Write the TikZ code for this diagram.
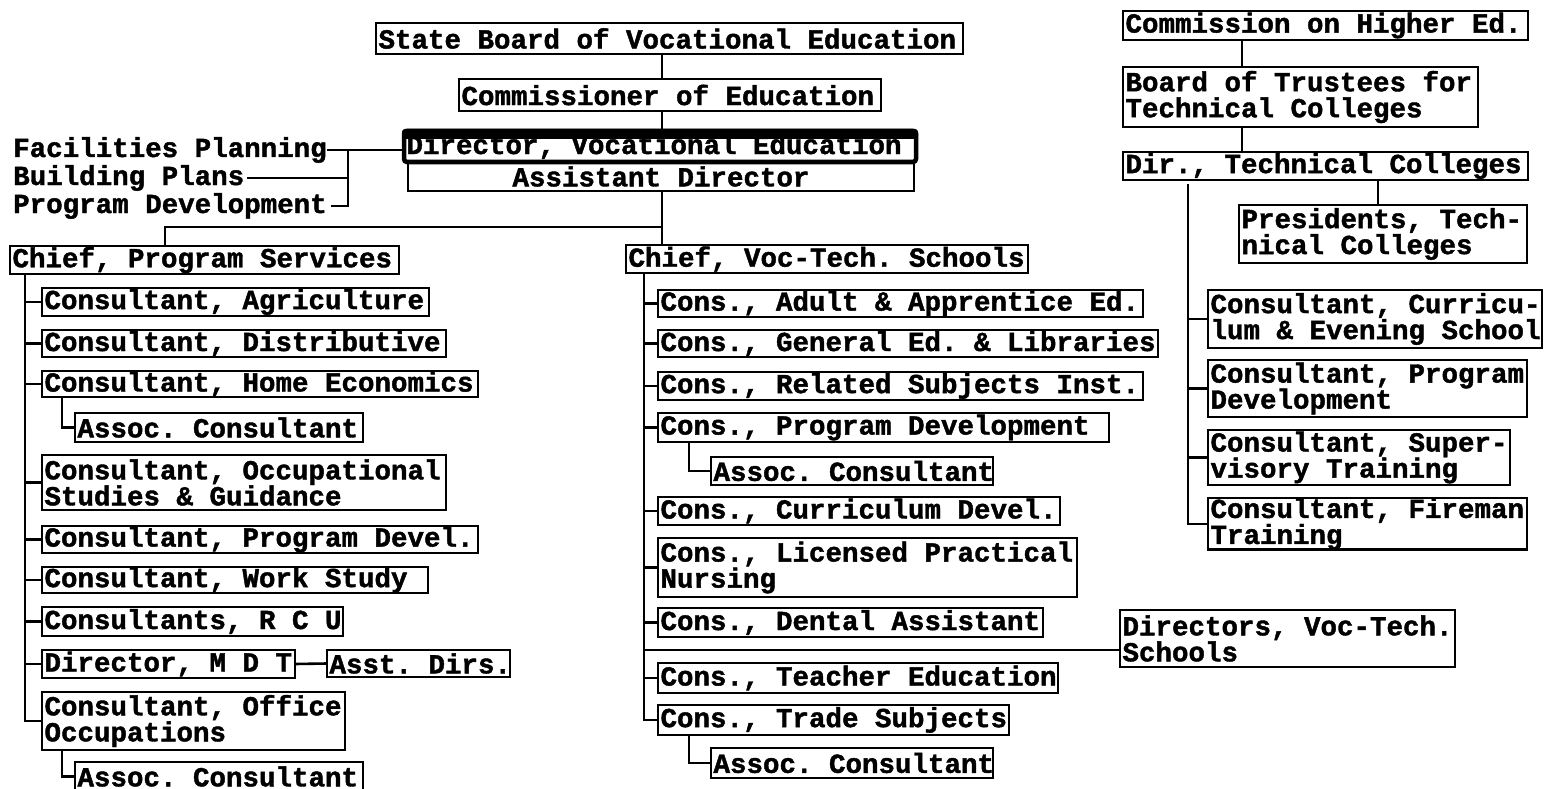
\documentclass[tikz,border=0pt]{standalone}
\usepackage{fontspec}
\newfontfamily\typewr{Liberation Mono}[BoldFeatures={FakeBold=1.5}]
\usetikzlibrary{calc}

% typewriter face with fixed-width word spaces
\newcommand\chartface{%
  \typewr\bfseries\fontsize{27.5}{26}\selectfont
  \fontdimen2\font=16.5pt \fontdimen3\font=0pt \fontdimen4\font=0pt
}

% org-chart box: [options]{name}{x1}{y1}{x2}{y2}{text}, pixel-style coordinates
\newcommand\orgbox[7][]{%
  \pgfmathsetmacro\obw{#5-#3}%
  \pgfmathsetmacro\obh{#6-#4}%
  \pgfmathsetmacro\otw{#5-#3-5}%
  \node[box, minimum width=\obw pt, minimum height=\obh pt, text width=\otw pt, #1] (#2) at (#3,#4) {#7};%
}

\tikzset{
  chartfont/.style={font=\chartface},
  box/.style={chartfont, draw, line width=2.6pt, anchor=north west,
    inner xsep=2.5pt, inner ysep=0pt, outer sep=0pt, align=flush left,
    execute at begin node={\spaceskip=16.5pt\xspaceskip=16.5pt\relax}},
  label/.style={chartfont, inner sep=0pt, anchor=base west},
  conn/.style={line width=2.6pt},
}

\begin{document}
\begin{tikzpicture}[x=1pt, y=-1pt]
\fill[white] (0,0) rectangle (1558,789);
\useasboundingbox (0,0) rectangle (1558,789);

% ---- central line of authority ----
\orgbox{sb}{376}{23}{963}{54}{\mbox{State Board of Vocational Education}}
\orgbox{ce}{459}{79}{881}{111}{\mbox{Commissioner of Education}}
\orgbox[line width=4.5pt, rounded corners=3pt]{dv}{404}{131}{916}{162}{\mbox{Director, Vocational Education}}
\fill[rounded corners=3pt] ($(dv.north west)+(-2pt,2pt)$) rectangle ($(dv.north east)+(2pt,-8pt)$);
\orgbox[align=flush center]{ad}{408}{162}{914}{191}{\mbox{Assistant Director}}

% staff functions beside the director
\node[label] (fp) at (13,157) {Facilities Planning};
\node[label] (bp) at (13,185) {Building Plans};
\node[label] (pd) at (13,213) {Program Development};
\coordinate (br) at (348,0);
\draw[conn] (fp.east) -- (fp.east -| dv.west);
\draw[conn] ($(bp.east)+(3pt,0)$) -- (bp.east -| br);
\draw[conn] ($(pd.east)+(4pt,0)$) -- (pd.east -| br) -- (br |- fp.east);

\coordinate (hub) at (662,227);
\coordinate (jl) at (165,227);
\draw[conn] (sb.south -| hub) -- (ce.north -| hub);
\draw[conn] (ce.south -| hub) -- (dv.north -| hub);
\draw[conn] (ad.south -| hub) -- (hub) -- (hub |- 0,245);
\draw[conn] (hub) -- (jl) -- (jl |- 0,246);

% ---- program services ----
\orgbox{cps}{10}{246}{399}{274}{\mbox{Chief, Program Services}}
\orgbox{a1}{42}{288}{429}{316}{\mbox{Consultant, Agriculture}}
\orgbox{a2}{42}{330}{446}{357}{\mbox{Consultant, Distributive}}
\orgbox{a3}{42}{371}{478}{397}{\mbox{Consultant, Home Economics}}
\orgbox{a3s}{75}{413}{363}{442}{\mbox{Assoc. Consultant}}
\orgbox{a4}{42}{455}{446}{510}{\mbox{Consultant, Occupational}\\\mbox{Studies \& Guidance}}
\orgbox{a5}{42}{526}{478}{553}{\mbox{Consultant, Program Devel.}}
\orgbox{a6}{42}{567}{428}{593}{\mbox{Consultant, Work Study}}
\orgbox{a7}{42}{607}{343}{636}{\mbox{Consultants, R C U}}
\orgbox{a8}{42}{650}{295}{678}{\mbox{Director, M D T}}
\orgbox{a8b}{327}{650}{510}{677}{\mbox{Asst. Dirs.}}
\orgbox{a9}{42}{692}{345}{750}{\mbox{Consultant, Office}\\\mbox{Occupations}}
\orgbox{a9s}{75}{762}{363}{791}{\mbox{Assoc. Consultant}}

\coordinate (lt) at (25,0);
\coordinate (ls) at (62,0);
\draw[conn] (cps.south -| lt) |- (a9.west);
\foreach \n in {a1,a2,a3,a4,a5,a6,a7,a8}
  \draw[conn] (\n.west) -- (\n.west -| lt);
\draw[conn] (a3.south -| ls) |- (a3s.west);
\draw[conn] (a9.south -| ls) |- (a9s.west);
\draw[conn] (a8.east) -- (a8b.west);

% ---- vocational-technical schools ----
\orgbox{cvt}{626}{245}{1028}{273}{\mbox{Chief, Voc-Tech. Schools}}
\orgbox{b1}{658}{290}{1143}{317}{\mbox{Cons., Adult \& Apprentice Ed.}}
\orgbox{b2}{658}{330}{1158}{357}{\mbox{Cons., General Ed. \& Libraries}}
\orgbox{b3}{658}{372}{1143}{400}{\mbox{Cons., Related Subjects Inst.}}
\orgbox{b4}{658}{413}{1109}{442}{\mbox{Cons., Program Development}}
\orgbox{b4s}{711}{457}{993}{485}{\mbox{Assoc. Consultant}}
\orgbox{b5}{658}{497}{1060}{525}{\mbox{Cons., Curriculum Devel.}}
\orgbox{b6}{658}{538}{1077}{597}{\mbox{Cons., Licensed Practical}\\\mbox{Nursing}}
\orgbox{b7}{658}{608}{1043}{637}{\mbox{Cons., Dental Assistant}}
\orgbox{b8}{658}{663}{1058}{693}{\mbox{Cons., Teacher Education}}
\orgbox{b9}{658}{705}{1009}{735}{\mbox{Cons., Trade Subjects}}
\orgbox{b9s}{711}{748}{993}{778}{\mbox{Assoc. Consultant}}
\orgbox{dvt}{1120}{610}{1455}{667}{\mbox{Directors, Voc-Tech.}\\\mbox{Schools}}

\coordinate (mt) at (644,0);
\coordinate (ms) at (689,0);
\coordinate (dj) at (644,650);
\draw[conn] (cvt.south -| mt) |- (b9.west);
\foreach \n in {b1,b2,b3,b4,b5,b6,b7,b8}
  \draw[conn] (\n.west) -- (\n.west -| mt);
\draw[conn] (b4.south -| ms) |- (b4s.west);
\draw[conn] (b9.south -| ms) |- (b9s.west);
\draw[conn] (dj) -- (dj -| dvt.west);

% ---- technical colleges ----
\orgbox{che}{1123}{11}{1528}{40}{\mbox{Commission on Higher Ed.}}
\orgbox{btc}{1123}{67}{1478}{127}{\mbox{Board of Trustees for}\\\mbox{Technical Colleges}}
\orgbox{dtc}{1123}{152}{1528}{180}{\mbox{Dir., Technical Colleges}}
\orgbox{ptc}{1239}{205}{1527}{263}{\mbox{Presidents, Tech-}\\\mbox{nical Colleges}}
\orgbox{c1}{1208}{290}{1542}{348}{\mbox{Consultant, Curricu-}\\\mbox{lum \& Evening School}}
\orgbox{c2}{1208}{360}{1527}{417}{\mbox{Consultant, Program}\\\mbox{Development}}
\orgbox{c3}{1208}{430}{1510}{485}{\mbox{Consultant, Super-}\\\mbox{visory Training}}
\orgbox{c4}{1208}{498}{1527}{548}{\mbox{Consultant, Fireman}\\\mbox{Training}}

\coordinate (rx) at (1242,0);
\coordinate (px) at (1378,0);
\coordinate (rt) at (1188,0);
\draw[conn] (che.south -| rx) -- (btc.north -| rx);
\draw[conn] (btc.south -| rx) -- (dtc.north -| rx);
\draw[conn] (dtc.south -| px) -- (ptc.north -| px);
\draw[conn] ($(dtc.south -| rt)+(0,-4pt)$) |- (c4.west);
\foreach \n in {c1,c2,c3}
  \draw[conn] (\n.west) -- (\n.west -| rt);
\end{tikzpicture}
\end{document}
